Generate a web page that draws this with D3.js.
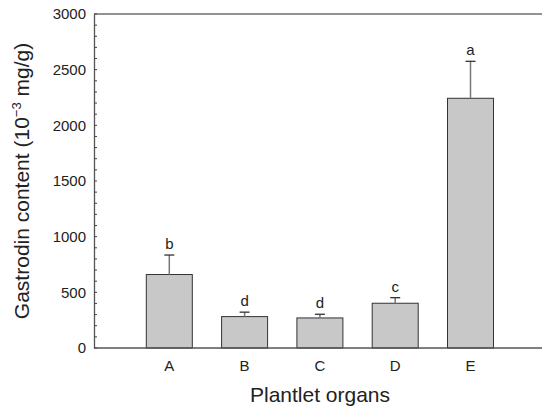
<!DOCTYPE html>
<html>
  <head>
    <meta charset="utf-8">
    <title>Gastrodin content by plantlet organ</title>
    <script src="https://cdn.jsdelivr.net/npm/d3@7"></script>
    <style type="text/css">
        body { margin: 0; background: #fff; }
        svg { display: block; font-family: "Liberation Sans", Arial, sans-serif; }
    </style>
  </head>
  <body>
    <div id="viz"></div>
    <script type="text/javascript">
    // data
    var organs = ["A", "B", "C", "D", "E"];
    var means  = [660, 282, 270, 402, 2243];
    var errors = [175, 40, 33, 50, 332];
    var letters = ["b", "d", "d", "c", "a"];
    var yTicks = [0, 500, 1000, 1500, 2000, 2500, 3000];

    var width = 542, height = 407;
    var plotLeft = 94, plotTop = 14, plotBottom = 348, plotRight = 542;

    var svg = d3.select("#viz").append("svg")
        .attr("width", width)
        .attr("height", height);

    var y = d3.scaleLinear().domain([0, 3000]).range([plotBottom, plotTop]);
    // bars sit on slots 1..5 of a 6-slot axis
    var x = d3.scaleLinear().domain([0, 6]).range([plotLeft, plotLeft + 6 * 75.3]);
    var barW = 46;

    // top frame line runs to the right edge
    svg.append("line")
        .attr("x1", plotLeft).attr("x2", plotRight)
        .attr("y1", plotTop).attr("y2", plotTop)
        .style("stroke", "#6e6e6e").style("stroke-width", 1.5);

    // y axis with inward minor ticks
    var yAxis = d3.axisLeft(y).tickValues(yTicks).tickFormat(d3.format("d"))
        .tickSize(0).tickPadding(8);
    var gy = svg.append("g").attr("transform", "translate(" + plotLeft + ",0)").call(yAxis);
    gy.select(".domain").style("stroke", "#555").style("stroke-width", 1.3);
    gy.selectAll("text").style("font-size", "15px").style("fill", "#222")
        .style("font-family", "'Liberation Sans', Arial, sans-serif");

    var minor = d3.range(0, 3001, 100);
    svg.append("g").selectAll("line")
        .data(minor)
        .enter().append("line")
        .attr("x1", plotLeft).attr("x2", plotLeft + 3)
        .attr("y1", function(d) { return y(d); })
        .attr("y2", function(d) { return y(d); })
        .style("stroke", "#444").style("stroke-width", 1);

    // bars
    svg.append("g").selectAll("rect")
        .data(organs)
        .enter().append("rect")
        .attr("x", function(d, i) { return x(i + 1) - barW / 2; })
        .attr("y", function(d, i) { return y(means[i]); })
        .attr("width", barW)
        .attr("height", function(d, i) { return y(0) - y(means[i]); })
        .style("fill", "#c8c8c8")
        .style("stroke", "#333")
        .style("stroke-width", 1);

    // error bars (upper only)
    var eb = svg.append("g");
    eb.selectAll("line.stem")
        .data(organs)
        .enter().append("line")
        .attr("class", "stem")
        .attr("x1", function(d, i) { return x(i + 1); })
        .attr("x2", function(d, i) { return x(i + 1); })
        .attr("y1", function(d, i) { return y(means[i]); })
        .attr("y2", function(d, i) { return y(means[i] + errors[i]); })
        .style("stroke", "#777").style("stroke-width", 1.5);
    eb.selectAll("line.cap")
        .data(organs)
        .enter().append("line")
        .attr("class", "cap")
        .attr("x1", function(d, i) { return x(i + 1) - 5; })
        .attr("x2", function(d, i) { return x(i + 1) + 5; })
        .attr("y1", function(d, i) { return y(means[i] + errors[i]); })
        .attr("y2", function(d, i) { return y(means[i] + errors[i]); })
        .style("stroke", "#333").style("stroke-width", 1.3);

    // significance letters
    svg.append("g").selectAll("text")
        .data(letters)
        .enter().append("text")
        .attr("x", function(d, i) { return x(i + 1); })
        .attr("y", function(d, i) { return y(means[i] + errors[i]) - 6; })
        .attr("text-anchor", "middle")
        .style("font-size", "15px")
        .style("fill", "#222")
        .text(function(d) { return d; });

    // x baseline and category labels
    svg.append("line")
        .attr("x1", plotLeft).attr("x2", plotRight)
        .attr("y1", plotBottom).attr("y2", plotBottom)
        .style("stroke", "#555").style("stroke-width", 1.3);

    svg.append("g").selectAll("text")
        .data(organs)
        .enter().append("text")
        .attr("x", function(d, i) { return x(i + 1); })
        .attr("y", plotBottom + 23)
        .attr("text-anchor", "middle")
        .style("font-size", "15px")
        .style("fill", "#222")
        .text(function(d) { return d; });

    // axis titles
    svg.append("text")
        .attr("x", 320).attr("y", 402)
        .attr("text-anchor", "middle")
        .style("font-size", "21px")
        .style("fill", "#222")
        .text("Plantlet organs");

    var yl = svg.append("text")
        .attr("transform", "translate(29,181) rotate(-90)")
        .attr("text-anchor", "middle")
        .style("font-size", "21px")
        .style("fill", "#222");
    yl.append("tspan").text("Gastrodin content (10");
    yl.append("tspan").attr("dy", -8).style("font-size", "13px").text("\u22123");
    yl.append("tspan").attr("dy", 8).text(" mg/g)");
    </script>
  </body>
</html>
